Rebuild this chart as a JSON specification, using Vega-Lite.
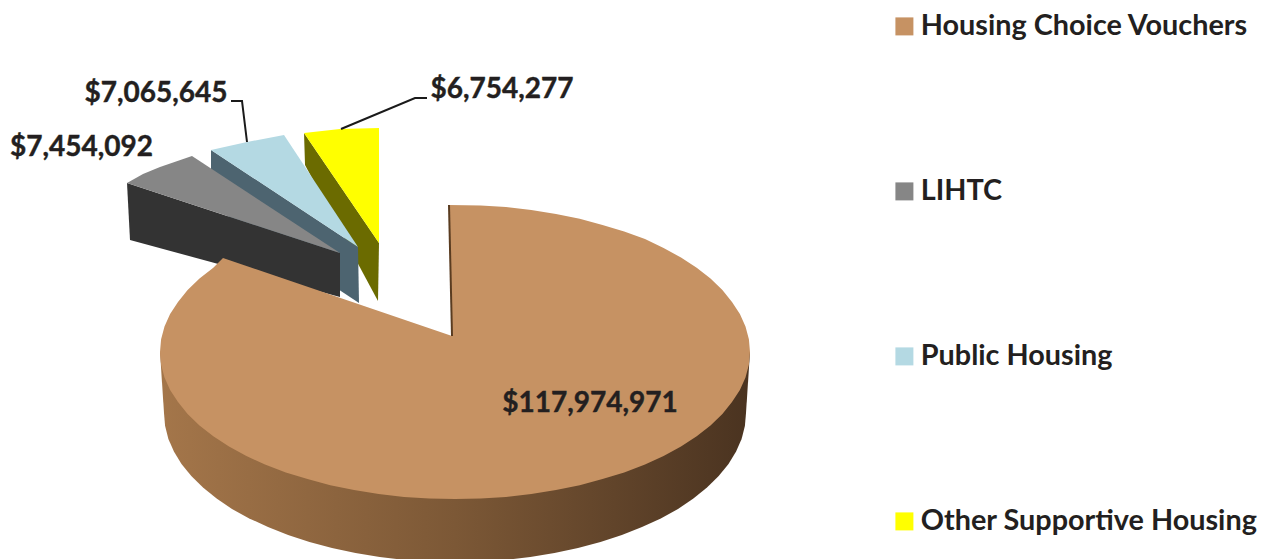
{
"$schema":"https://vega.github.io/schema/vega-lite/v6.json",
"width":1267,"height":559,"padding":0,
"autosize":{"type":"fit","contains":"padding"},
"background":"white",
"datasets":{
"wedges":[
{"face":"Other Supportive Housing side","step":1,"across":304,"down":133},
{"face":"Other Supportive Housing side","step":2,"across":379,"down":243},
{"face":"Other Supportive Housing side","step":3,"across":378,"down":301},
{"face":"Other Supportive Housing side","step":4,"across":305,"down":165},
{"face":"Other Supportive Housing","step":1,"across":304,"down":133},
{"face":"Other Supportive Housing","step":2,"across":340,"down":129},
{"face":"Other Supportive Housing","step":3,"across":379,"down":128},
{"face":"Other Supportive Housing","step":4,"across":379,"down":243},
{"face":"Public Housing side","step":1,"across":211,"down":150},
{"face":"Public Housing side","step":2,"across":358,"down":247},
{"face":"Public Housing side","step":3,"across":359,"down":303},
{"face":"Public Housing side","step":4,"across":211,"down":205},
{"face":"Public Housing","step":1,"across":211,"down":150},
{"face":"Public Housing","step":2,"across":247,"down":142},
{"face":"Public Housing","step":3,"across":284,"down":135},
{"face":"Public Housing","step":4,"across":358,"down":247},
{"face":"LIHTC side","step":1,"across":127,"down":183},
{"face":"LIHTC side","step":2,"across":340,"down":253},
{"face":"LIHTC side","step":3,"across":340,"down":297},
{"face":"LIHTC side","step":4,"across":130,"down":240},
{"face":"LIHTC","step":1,"across":127,"down":183},
{"face":"LIHTC","step":2,"across":143,"down":174},
{"face":"LIHTC","step":3,"across":160,"down":167},
{"face":"LIHTC","step":4,"across":192,"down":156},
{"face":"LIHTC","step":5,"across":340,"down":253}
],
"pieSide":[
{"step":1,"across":750,"down":352},{"step":2,"across":746,"down":413},{"step":2.5,"across":744.9,"down":426},{"step":3,"across":741.6,"down":439},{"step":3.5,"across":736.1,"down":451.6},{"step":4,"across":728.5,"down":464},{"step":4.5,"across":718.7,"down":476},{"step":5,"across":707,"down":487.5},{"step":5.5,"across":693.4,"down":498.5},{"step":6,"across":678,"down":509},{"step":6.5,"across":660.8,"down":518.4},{"step":7,"across":642,"down":527},{"step":7.5,"across":621.9,"down":535.1},{"step":8,"across":600.5,"down":542},{"step":8.5,"across":578,"down":548},{"step":9,"across":554.5,"down":553},{"step":9.5,"across":530.3,"down":556.9},{"step":10,"across":505.5,"down":560},{"step":10.5,"across":480.4,"down":561.4},{"step":11,"across":455,"down":562},{"step":11.5,"across":429.6,"down":561.4},{"step":12,"across":404.5,"down":560},{"step":12.5,"across":379.7,"down":556.9},{"step":13,"across":355.5,"down":553},{"step":13.5,"across":332,"down":548},{"step":14,"across":309.5,"down":542},{"step":14.5,"across":288.1,"down":535.1},{"step":15,"across":268,"down":527},{"step":15.5,"across":249.2,"down":518.4},{"step":16,"across":232,"down":509},{"step":16.5,"across":216.6,"down":498.5},{"step":17,"across":203,"down":487.5},{"step":17.5,"across":191.3,"down":476},{"step":18,"across":181.5,"down":464},{"step":18.5,"across":173.9,"down":451.6},{"step":19,"across":168.4,"down":439},{"step":19.5,"across":165.1,"down":426},{"step":20,"across":164,"down":413},{"step":21,"across":160,"down":352}
],
"pieTop":[
{"face":"Housing Choice Vouchers","step":1,"across":452,"down":336},{"face":"Housing Choice Vouchers","step":2,"across":449,"down":205},{"face":"Housing Choice Vouchers","step":2.5,"across":480.7,"down":205.6},{"face":"Housing Choice Vouchers","step":3,"across":506,"down":207},{"face":"Housing Choice Vouchers","step":3.5,"across":531.3,"down":210},{"face":"Housing Choice Vouchers","step":4,"across":556,"down":214},{"face":"Housing Choice Vouchers","step":4.5,"across":579.7,"down":218.8},{"face":"Housing Choice Vouchers","step":5,"across":602.5,"down":225},{"face":"Housing Choice Vouchers","step":5.5,"across":624.2,"down":231.6},{"face":"Housing Choice Vouchers","step":6,"across":645,"down":239},{"face":"Housing Choice Vouchers","step":6.5,"across":663.6,"down":248.1},{"face":"Housing Choice Vouchers","step":7,"across":681,"down":257.5},{"face":"Housing Choice Vouchers","step":7.5,"across":696.7,"down":267.7},{"face":"Housing Choice Vouchers","step":8,"across":710.5,"down":278.5},{"face":"Housing Choice Vouchers","step":8.5,"across":722.4,"down":289.9},{"face":"Housing Choice Vouchers","step":9,"across":732,"down":302},{"face":"Housing Choice Vouchers","step":9.5,"across":739.9,"down":314},{"face":"Housing Choice Vouchers","step":10,"across":745.5,"down":326.5},{"face":"Housing Choice Vouchers","step":10.5,"across":748.9,"down":339.2},{"face":"Housing Choice Vouchers","step":11,"across":750,"down":352},{"face":"Housing Choice Vouchers","step":11.5,"across":748.9,"down":364.8},{"face":"Housing Choice Vouchers","step":12,"across":745.5,"down":377.5},{"face":"Housing Choice Vouchers","step":12.5,"across":739.9,"down":390},{"face":"Housing Choice Vouchers","step":13,"across":732,"down":402},{"face":"Housing Choice Vouchers","step":13.5,"across":722.4,"down":414.1},{"face":"Housing Choice Vouchers","step":14,"across":710.5,"down":425.5},{"face":"Housing Choice Vouchers","step":14.5,"across":696.7,"down":436.3},{"face":"Housing Choice Vouchers","step":15,"across":681,"down":446.5},{"face":"Housing Choice Vouchers","step":15.5,"across":663.6,"down":455.9},{"face":"Housing Choice Vouchers","step":16,"across":645,"down":464.6},{"face":"Housing Choice Vouchers","step":16.5,"across":624.2,"down":472.4},{"face":"Housing Choice Vouchers","step":17,"across":602.5,"down":479},{"face":"Housing Choice Vouchers","step":17.5,"across":579.7,"down":485.2},{"face":"Housing Choice Vouchers","step":18,"across":556,"down":490},{"face":"Housing Choice Vouchers","step":18.5,"across":531.3,"down":494},{"face":"Housing Choice Vouchers","step":19,"across":506,"down":497},{"face":"Housing Choice Vouchers","step":19.5,"across":480.7,"down":498.4},{"face":"Housing Choice Vouchers","step":20,"across":455,"down":499},{"face":"Housing Choice Vouchers","step":20.5,"across":429.3,"down":498.4},{"face":"Housing Choice Vouchers","step":21,"across":404,"down":497},{"face":"Housing Choice Vouchers","step":21.5,"across":378.7,"down":494},{"face":"Housing Choice Vouchers","step":22,"across":354,"down":490},{"face":"Housing Choice Vouchers","step":22.5,"across":330.3,"down":485.2},{"face":"Housing Choice Vouchers","step":23,"across":307.5,"down":479},{"face":"Housing Choice Vouchers","step":23.5,"across":285.8,"down":472.4},{"face":"Housing Choice Vouchers","step":24,"across":265,"down":464.6},{"face":"Housing Choice Vouchers","step":24.5,"across":246.4,"down":455.9},{"face":"Housing Choice Vouchers","step":25,"across":229,"down":446.5},{"face":"Housing Choice Vouchers","step":25.5,"across":213.3,"down":436.3},{"face":"Housing Choice Vouchers","step":26,"across":199.5,"down":425.5},{"face":"Housing Choice Vouchers","step":26.5,"across":187.6,"down":414.1},{"face":"Housing Choice Vouchers","step":27,"across":178,"down":402},{"face":"Housing Choice Vouchers","step":27.5,"across":170.1,"down":390},{"face":"Housing Choice Vouchers","step":28,"across":164.5,"down":377.5},{"face":"Housing Choice Vouchers","step":28.5,"across":161.1,"down":364.8},{"face":"Housing Choice Vouchers","step":29,"across":160,"down":352},{"face":"Housing Choice Vouchers","step":29.5,"across":161.1,"down":339.2},{"face":"Housing Choice Vouchers","step":30,"across":164.5,"down":326.5},{"face":"Housing Choice Vouchers","step":30.5,"across":170.1,"down":314},{"face":"Housing Choice Vouchers","step":31,"across":178,"down":302},{"face":"Housing Choice Vouchers","step":31.5,"across":187.6,"down":289.9},{"face":"Housing Choice Vouchers","step":32,"across":199.5,"down":278.5},{"face":"Housing Choice Vouchers","step":32.5,"across":213.3,"down":267.7},{"face":"Housing Choice Vouchers","step":33,"across":223,"down":258}
],
"cutWall":[
{"step":1,"across":449,"down":205},{"step":2,"across":452,"down":336}
],
"leaders":[
{"leader":"Public Housing","step":1,"across":231,"down":101},{"leader":"Public Housing","step":2,"across":242,"down":101},{"leader":"Public Housing","step":3,"across":247,"down":142},
{"leader":"Other Supportive Housing","step":1,"across":427,"down":98},{"leader":"Other Supportive Housing","step":2,"across":415,"down":98},{"leader":"Other Supportive Housing","step":3,"across":341,"down":129}
],
"amounts":[
{"program":"Housing Choice Vouchers","amount":117974971,"across":590,"down":404},
{"program":"LIHTC","amount":7454092,"across":81.5,"down":148},
{"program":"Public Housing","amount":7065645,"across":156,"down":94},
{"program":"Other Supportive Housing","amount":6754277,"across":502,"down":90}
]
},
"encoding":{
"x":{"field":"across","type":"quantitative","scale":{"domain":[0,1267],"nice":false,"zero":false},"axis":null},
"y":{"field":"down","type":"quantitative","scale":{"domain":[559,0],"nice":false,"zero":false},"axis":null},
"order":{"field":"step","type":"quantitative"}
},
"layer":[
{"data":{"name":"wedges"},
 "mark":{"type":"line","filled":true,"clip":true},
 "encoding":{"fill":{"field":"face","type":"nominal"}}},
{"data":{"name":"pieSide"},
 "mark":{"type":"line","filled":true,"clip":true,"color":{"gradient":"linear","x1":0,"y1":0,"x2":1,"y2":0,"stops":[{"offset":0,"color":"#A4764A"},{"offset":0.5,"color":"#7C5836"},{"offset":1,"color":"#4A3320"}]}}},
{"data":{"name":"pieTop"},
 "mark":{"type":"line","filled":true,"clip":true},
 "encoding":{"fill":{"field":"face","type":"nominal",
   "scale":{"domain":["Housing Choice Vouchers","LIHTC","Public Housing","Other Supportive Housing","LIHTC side","Public Housing side","Other Supportive Housing side"],
            "range":["#C69263","#868686","#B4D9E3","#FFFF00","#333333","#4D6470","#6B6B00"]},
   "legend":{"values":["Housing Choice Vouchers","LIHTC","Public Housing","Other Supportive Housing"],
     "title":null,"orient":"none","legendX":890,"legendY":12,"padding":0,"symbolType":"square","symbolSize":324,"symbolStrokeWidth":0,"symbolOffset":0,"labelOffset":2,
     "labelFont":"Lato","labelFontWeight":"bold","labelFontSize":28.8,"labelColor":"#231F20","labelLimit":400,"rowPadding":135}}}},
{"data":{"name":"cutWall"},
 "mark":{"type":"line","color":"#5A3C20","strokeWidth":2}},
{"data":{"name":"leaders"},
 "mark":{"type":"line","color":"#1A1A1A","strokeWidth":2},
 "encoding":{"detail":{"field":"leader","type":"nominal"}}},
{"data":{"name":"amounts"},
 "mark":{"type":"text","font":"Lato","fontWeight":"bold","fontSize":28,"color":"#231F20","stroke":"#231F20","strokeWidth":0.4,"align":"center","baseline":"middle"},
 "encoding":{"text":{"field":"amount","type":"quantitative","format":"$,.0f"}}}
],
"config":{"view":{"stroke":null}}
}
